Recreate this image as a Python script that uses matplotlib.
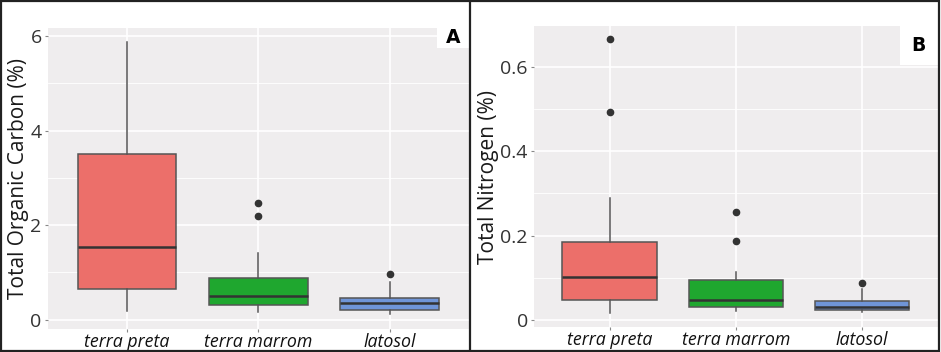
import matplotlib
matplotlib.use('Agg')
import matplotlib.pyplot as plt
from matplotlib.patches import Rectangle
from matplotlib.lines import Line2D

plt.rcParams['font.family'] = ['Open Sans', 'DejaVu Sans']

categories = ['terra preta', 'terra marrom', 'latosol']
colors = ['#EC6F6A', '#1FA72F', '#6F95D8']

# panel A - total organic carbon (%)
toc_whislo = [0.19, 0.155, 0.11]
toc_q1 = [0.65, 0.30, 0.197]
toc_med = [1.535, 0.49, 0.35]
toc_q3 = [3.51, 0.87, 0.465]
toc_whishi = [5.88, 1.41, 0.80]
toc_fliers = [[], [2.47, 2.19], [0.97]]

# panel B - total nitrogen (%)
tn_whislo = [0.0166, 0.020, 0.019]
tn_q1 = [0.048, 0.031, 0.024]
tn_med = [0.102, 0.048, 0.030]
tn_q3 = [0.184, 0.095, 0.044]
tn_whishi = [0.288, 0.114, 0.072]
tn_fliers = [[0.667, 0.494], [0.255, 0.186], [0.087]]


def make_stats(lo, q1, med, q3, hi, fl):
  stats = []
  for i in range(len(categories)):
    stats.append({'whislo': lo[i], 'q1': q1[i], 'med': med[i], 'q3': q3[i],
                  'whishi': hi[i], 'fliers': fl[i], 'label': categories[i]})
  return stats


def draw_panel(ax, stats, ylabel, yticks, yticklabels, minor, ylim, letter, boxw, boxh):
  ax.set_facecolor('#EFEDEE')
  for y in minor:
    ax.axhline(y, color='white', lw=0.6, zorder=0)
  for y in yticks:
    ax.axhline(y, color='white', lw=1.2, zorder=0)
  for x in [1, 2, 3]:
    ax.axvline(x, color='white', lw=1.2, zorder=0)
  bp = ax.bxp(stats, positions=[1, 2, 3], widths=0.75, patch_artist=True, showcaps=False,
              boxprops=dict(edgecolor='#555555', linewidth=1.1),
              medianprops=dict(color='#333333', linewidth=1.8),
              whiskerprops=dict(color='#555555', linewidth=1.1),
              flierprops=dict(marker='o', markerfacecolor='#333333', markeredgecolor='#333333', markersize=4.5))
  for patch, c in zip(bp['boxes'], colors):
    patch.set_facecolor(c)
  ax.set_xlim(0.4, 3.6)
  ax.set_ylim(ylim)
  ax.set_xticks([1, 2, 3])
  ax.set_xticklabels(categories, fontsize=12.8, style='italic', color='#111111')
  ax.set_yticks(yticks)
  ax.set_yticklabels(yticklabels, fontsize=14, color='#333333')
  ax.tick_params(length=2.5, width=0.8, color='#888888', pad=2)
  ax.tick_params(axis='x', pad=0.5)
  ax.set_ylabel(ylabel, fontsize=15, color='#1a1a1a', labelpad=1)
  for s in ax.spines.values():
    s.set_visible(False)
  ax.add_patch(Rectangle((1 - boxw, 1 - boxh), boxw, boxh, transform=ax.transAxes,
                         facecolor='white', edgecolor='none', zorder=5, clip_on=False))
  ax.text(1 - boxw / 2, 1 - boxh / 2, letter, transform=ax.transAxes, ha='center', va='center',
          fontsize=13.5, fontweight='bold', family='DejaVu Sans', zorder=6)


fig = plt.figure(figsize=(9.41, 3.52), dpi=100)
ax1 = fig.add_axes([0.051, 0.0665, 0.447, 0.854])
ax2 = fig.add_axes([0.5675, 0.0705, 0.429, 0.856])

draw_panel(ax1, make_stats(toc_whislo, toc_q1, toc_med, toc_q3, toc_whishi, toc_fliers),
           'Total Organic Carbon (%)', [0, 2, 4, 6], ['0', '2', '4', '6'], [1, 3, 5],
           (-0.19, 6.17), 'A', 0.075, 0.066)
draw_panel(ax2, make_stats(tn_whislo, tn_q1, tn_med, tn_q3, tn_whishi, tn_fliers),
           'Total Nitrogen (%)', [0, 0.2, 0.4, 0.6], ['0', '0.2', '0.4', '0.6'], [0.1, 0.3, 0.5],
           (-0.0175, 0.6975), 'B', 0.094, 0.13)

# outer frame and divider
fig.add_artist(Rectangle((0.001, 0.003), 0.997, 0.994, transform=fig.transFigure,
                         fill=False, edgecolor='#222222', linewidth=1.6))
fig.add_artist(Line2D([0.4995, 0.4995], [0, 1], transform=fig.transFigure, color='#222222', linewidth=1.6))

fig.savefig('out.png', dpi=100)
